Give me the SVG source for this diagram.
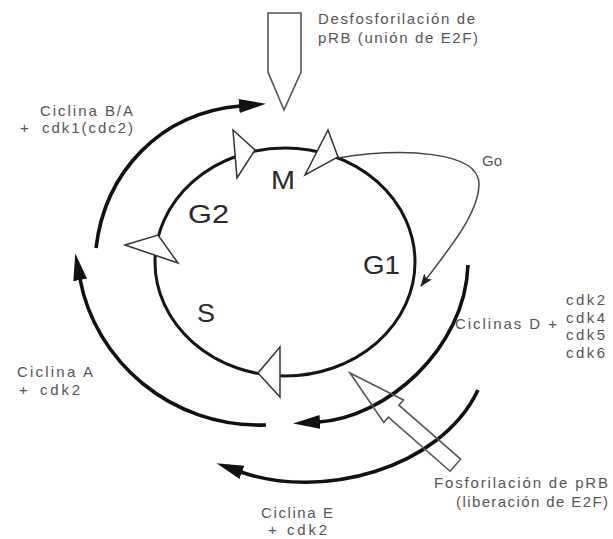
<svg xmlns="http://www.w3.org/2000/svg" width="613" height="539" viewBox="0 0 613 539">
  <style>
    .lbl { font-family: Arial, "Liberation Sans", Helvetica, sans-serif; font-size: 15px; fill: #555; }
    .phase { font-family: Arial, "Liberation Sans", Helvetica, sans-serif; font-size: 25px; fill: #2a2a2a; }
    .thick { fill: none; stroke: #111; stroke-width: 3.6; stroke-linecap: butt; }
    .ring { fill: none; stroke: #151515; stroke-width: 3; }
    .tri { fill: #fff; stroke: #333; stroke-width: 1.5; stroke-linejoin: miter; }
    .open { fill: none; stroke: #555; stroke-width: 1.6; stroke-linejoin: miter; }
    .thin { fill: none; stroke: #444; stroke-width: 1.5; }
  </style>
  <defs>
    <marker id="head" markerUnits="userSpaceOnUse" markerWidth="28" markerHeight="16" viewBox="0 0 28 16" refX="1" refY="8" orient="auto">
      <path d="M0,1 L27,8 L0,15 Z" fill="#111"/>
    </marker>
    <marker id="small" markerUnits="userSpaceOnUse" markerWidth="14" markerHeight="10" viewBox="0 0 14 10" refX="12" refY="5" orient="auto">
      <path d="M0,0 L13,5 L0,10 L3,5 Z" fill="#222"/>
    </marker>
  </defs>
  <rect width="613" height="539" fill="#fff"/>

  <g id="cycle">
    <ellipse class="ring" cx="285" cy="262" rx="130" ry="114"/>
    <polygon class="tri" points="233,130 255,150 237,178"/>
    <polygon class="tri" points="328,130 338,157 305,175"/>
    <polygon class="tri" points="125,245 158,235 178,263"/>
    <polygon class="tri" points="280,347 258,373 280,397"/>
  </g>

  <g id="phase-labels">
    <text class="phase" x="271" y="189" textLength="24" lengthAdjust="spacingAndGlyphs">M</text>
    <text class="phase" x="188" y="223" textLength="41" lengthAdjust="spacingAndGlyphs">G2</text>
    <text class="phase" x="363" y="274" textLength="37" lengthAdjust="spacingAndGlyphs">G1</text>
    <text class="phase" x="197" y="322" textLength="18" lengthAdjust="spacingAndGlyphs">S</text>
  </g>

  <g id="connectors">
    <path id="arc-ba" class="thick" d="M96,248 C 105,172 160,113 240,106" marker-end="url(#head)"/>
    <path id="arc-a" class="thick" d="M266,425 C 170,428 95,360 80,279" marker-end="url(#head)"/>
    <path id="arc-d" class="thick" d="M468,265 C 465,350 385,418 319,422" marker-end="url(#head)"/>
    <path id="arc-e" class="thick" d="M478,390 C 440,470 320,500 241,472" marker-end="url(#head)"/>
    <path id="go" class="thin" d="M338,158 C 400,148 480,150 479,185 C 478,215 448,250 421,286" marker-end="url(#small)"/>
  </g>

  <g id="dephosphorylation">
    <polygon class="open" points="268,13 301,13 301,72 284,110 268,72"/>
    <text class="lbl" x="318" y="24" textLength="157" lengthAdjust="spacing">Desfosforilación de</text>
    <text class="lbl" x="318" y="43" textLength="160" lengthAdjust="spacing">pRB (unión de E2F)</text>
  </g>

  <g id="phosphorylation">
    <polygon class="open" transform="translate(350,373) rotate(41.2)" points="0,0 58,-15 58,-8 140,-8 140,8 58,8 58,15"/>
    <text class="lbl" x="434" y="488" textLength="174" lengthAdjust="spacing">Fosforilación de pRB</text>
    <text class="lbl" x="456" y="507" textLength="152" lengthAdjust="spacing">(liberación de E2F)</text>
  </g>

  <g id="label-ba">
    <text class="lbl" x="40" y="116" textLength="93" lengthAdjust="spacing">Ciclina B/A</text>
    <text class="lbl" y="133"><tspan x="20">+</tspan><tspan x="42" textLength="91" lengthAdjust="spacing">cdk1(cdc2)</tspan></text>
  </g>
  <g id="label-a">
    <text class="lbl" x="17" y="377" textLength="76" lengthAdjust="spacing">Ciclina A</text>
    <text class="lbl" y="395"><tspan x="19">+</tspan><tspan x="40" textLength="40" lengthAdjust="spacing">cdk2</tspan></text>
  </g>
  <g id="label-e">
    <text class="lbl" x="261" y="518" textLength="72" lengthAdjust="spacing">Ciclina E</text>
    <text class="lbl" y="535"><tspan x="268">+</tspan><tspan x="287" textLength="40" lengthAdjust="spacing">cdk2</tspan></text>
  </g>
  <g id="label-d">
    <text class="lbl" x="455" y="329" textLength="102" lengthAdjust="spacing">Ciclinas D +</text>
    <text class="lbl" x="566" y="305" textLength="39" lengthAdjust="spacing">cdk2</text>
    <text class="lbl" x="566" y="323" textLength="39" lengthAdjust="spacing">cdk4</text>
    <text class="lbl" x="566" y="340" textLength="39" lengthAdjust="spacing">cdk5</text>
    <text class="lbl" x="566" y="358" textLength="39" lengthAdjust="spacing">cdk6</text>
  </g>
  <g id="label-go">
    <text class="lbl" x="482" y="166">Go</text>
  </g>
</svg>
